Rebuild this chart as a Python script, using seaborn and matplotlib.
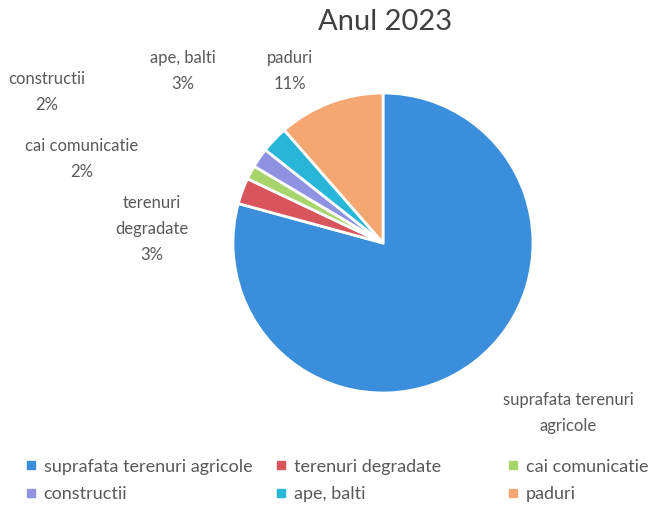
import matplotlib
matplotlib.use("Agg")
import matplotlib.pyplot as plt
import seaborn as sns
from matplotlib.lines import Line2D

categories = ["suprafata terenuri agricole", "terenuri degradate", "cai comunicatie",
              "constructii", "ape, balti", "paduri"]
values = [79.0, 2.8, 1.5, 2.1, 2.9, 11.4]
pct_labels = ["", "3%", "2%", "2%", "3%", "11%"]
slice_labels = ["suprafata terenuri\nagricole", "terenuri\ndegradate", "cai comunicatie",
                "constructii", "ape, balti", "paduri"]
colors = ["#3A8EDB", "#D9555E", "#A8D46C", "#8F92E0", "#27B5D8", "#F5A772"]
title = "Anul 2023"

sns.set_theme(style="white")
plt.rcParams["font.family"] = ["Lato", "DejaVu Sans"]

fig = plt.figure(figsize=(6.62, 5.12), dpi=100)
ax = fig.add_axes([0, 0, 1, 1])

cx, cy, r = 383, 269, 150
ax.pie(values, colors=colors, startangle=90, counterclock=False,
       center=(cx, cy), radius=r, frame=True,
       wedgeprops=dict(edgecolor="white", linewidth=2))
ax.set_xlim(0, 662)
ax.set_ylim(0, 512)
ax.set_aspect("equal")
ax.axis("off")

txt_color = "#595959"
label_pos = [(568, 413), (152, 229), (82, 159), (47, 92), (183, 71), (290, 71)]
for lab, pct, (x, y) in zip(slice_labels, pct_labels, label_pos):
    s = lab + ("\n" + pct if pct else "")
    ax.text(x, 512 - y, s, ha="center", va="center", fontsize=12,
            color=txt_color, linespacing=1.8)

ax.text(385, 512 - 22, title, ha="center", va="center", fontsize=21, color="#404040")

cols = [[0, 3], [1, 4], [2, 5]]
xs = [0.0387, 0.4163, 0.7668]
for col, x in zip(cols, xs):
    handles = [Line2D([0], [0], marker="s", linestyle="", markersize=6,
                      markerfacecolor=colors[i], markeredgecolor=colors[i])
               for i in col]
    leg = fig.legend(handles, [categories[i] for i in col], loc="upper left",
                     bbox_to_anchor=(x, 0.104), frameon=False, fontsize=13,
                     handlelength=0.6, handletextpad=0.4, labelspacing=0.65,
                     borderaxespad=0, borderpad=0)
    for t in leg.get_texts():
        t.set_color(txt_color)

fig.savefig("out.png", dpi=100)
